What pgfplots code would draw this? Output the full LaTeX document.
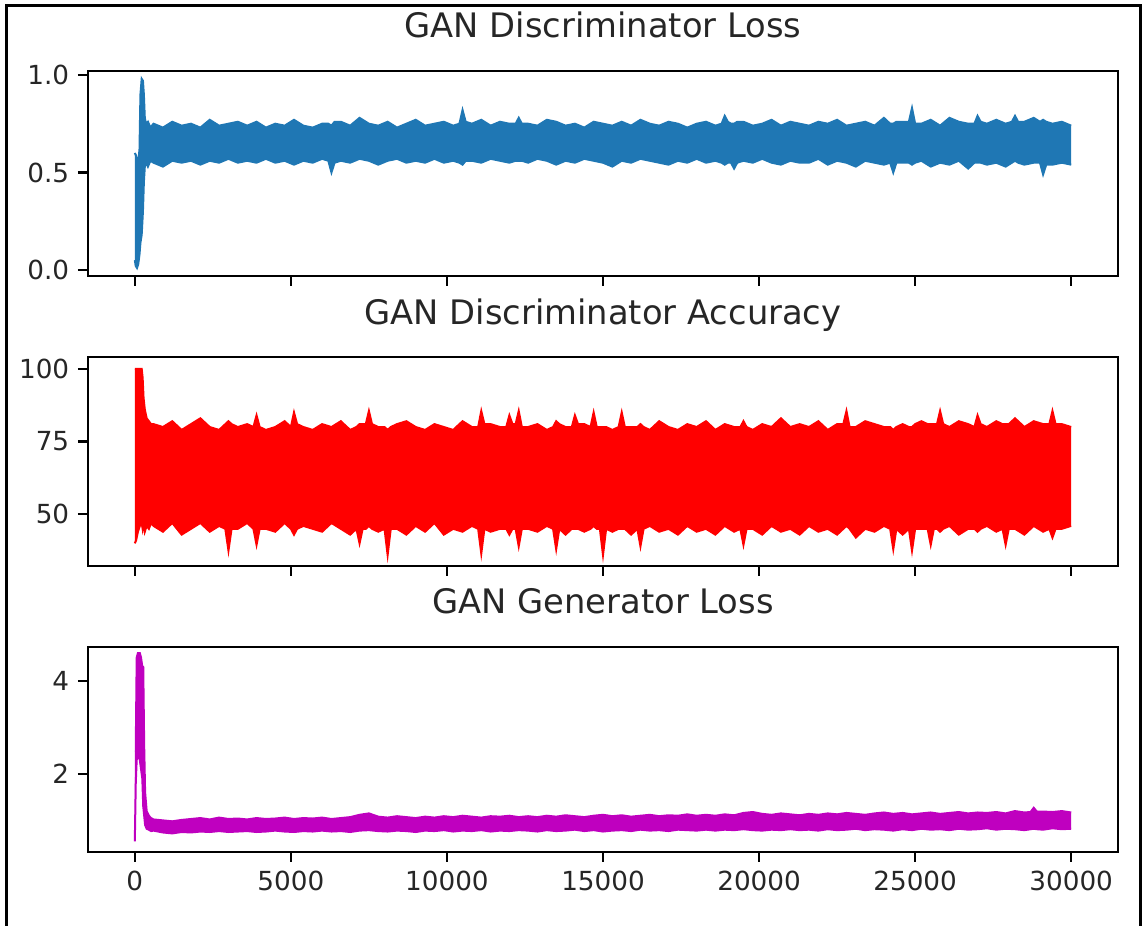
\documentclass[border=0pt]{standalone}
\usepackage{fontspec}
\setmainfont{DejaVu Sans}
\usepackage{pgfplots}
\usepackage{pgfplotstable}
\pgfplotsset{compat=1.18}
\usepgfplotslibrary{fillbetween}

\definecolor{mplblue}{HTML}{1F77B4}
\definecolor{mplred}{HTML}{FF0000}
\definecolor{mplmag}{rgb}{0.75,0,0.75}

% Discriminator loss: x, upper envelope, lower envelope
\pgfplotstableread{
x u l
0 0.60 0.05
30 0.59 0.02
70 0.57 0.01
110 0.55 0.03
150 0.62 0.08
180 0.90 0.14
220 0.98 0.18
260 0.97 0.30
290 0.90 0.45
320 0.78 0.53
360 0.75 0.55
420 0.76 0.53
500 0.73 0.56
600 0.75 0.55
900 0.73 0.53
1200 0.76 0.56
1500 0.74 0.55
1800 0.75 0.56
2100 0.73 0.54
2400 0.77 0.56
2700 0.74 0.55
3000 0.75 0.57
3300 0.76 0.55
3600 0.74 0.56
3900 0.76 0.55
4200 0.73 0.57
4500 0.75 0.55
4800 0.74 0.56
5100 0.77 0.54
5400 0.74 0.56
5700 0.73 0.55
6000 0.75 0.57
6200 0.75 0.56
6300 0.74 0.50
6400 0.76 0.55
6600 0.76 0.56
6900 0.74 0.55
7200 0.78 0.57
7500 0.75 0.56
7800 0.74 0.54
8100 0.76 0.56
8400 0.73 0.57
8700 0.75 0.55
9000 0.77 0.56
9300 0.74 0.55
9600 0.75 0.57
9900 0.76 0.55
10200 0.74 0.56
10400 0.75 0.55
10500 0.82 0.54
10600 0.76 0.56
10800 0.75 0.56
11100 0.77 0.55
11400 0.74 0.57
11700 0.76 0.56
12000 0.75 0.55
12200 0.75 0.56
12300 0.78 0.56
12400 0.75 0.56
12600 0.75 0.55
12900 0.74 0.57
13200 0.77 0.56
13500 0.76 0.54
13800 0.74 0.56
14100 0.75 0.55
14400 0.73 0.57
14700 0.76 0.56
15000 0.75 0.55
15300 0.74 0.53
15600 0.76 0.56
15900 0.74 0.55
16200 0.77 0.57
16500 0.75 0.56
16800 0.74 0.55
17100 0.76 0.54
17400 0.75 0.56
17700 0.73 0.55
18000 0.75 0.57
18300 0.76 0.55
18600 0.74 0.56
18800 0.75 0.55
18900 0.79 0.54
19000 0.76 0.55
19100 0.75 0.55
19200 0.75 0.52
19300 0.76 0.55
19500 0.76 0.56
19800 0.74 0.55
20100 0.75 0.57
20400 0.77 0.55
20700 0.74 0.54
21000 0.76 0.56
21300 0.75 0.55
21600 0.74 0.55
21900 0.76 0.57
22200 0.75 0.54
22500 0.77 0.56
22800 0.74 0.55
23100 0.75 0.53
23400 0.76 0.56
23700 0.74 0.55
24000 0.78 0.54
24200 0.75 0.55
24300 0.75 0.50
24400 0.76 0.55
24600 0.76 0.55
24800 0.76 0.55
24900 0.83 0.54
25000 0.75 0.55
25200 0.75 0.56
25500 0.77 0.53
25800 0.74 0.55
26100 0.78 0.54
26400 0.76 0.56
26700 0.75 0.52
26900 0.75 0.55
27000 0.79 0.55
27100 0.76 0.55
27300 0.75 0.54
27600 0.77 0.55
27900 0.75 0.53
28100 0.76 0.55
28200 0.79 0.56
28300 0.76 0.55
28500 0.76 0.54
28800 0.78 0.55
29000 0.76 0.55
29100 0.77 0.49
29200 0.76 0.54
29400 0.75 0.54
29700 0.76 0.55
30000 0.74 0.54
}\lossdata

% Discriminator accuracy
\pgfplotstableread{
x u l
0 100 40
40 100 41
100 100 44
160 100 46
220 100 47
250 97 45
280 90 47
320 86 44
380 83 46
450 82 45
520 81 47
600 81 46
900 80 44
1200 82 47
1500 79 43
1800 81 45
2100 83 47
2400 80 44
2700 79 46
2900 81 45
3000 82 37.5
3100 81 45
3300 80 45
3600 81 47
3800 80 45
3900 84 39.5
4000 80 45
4200 79 45
4500 80 44
4800 82 47
5000 80 45
5100 85 43
5200 81 45
5400 80 46
5700 79 45
6000 81 44
6300 80 47
6600 82 45
6900 79 43
7100 80 45
7200 81 40
7300 81 45
7400 81 45
7500 85.5 46
7600 81 45
7800 80 44
8000 80 45
8100 79 36
8200 80 45
8400 81 45
8700 82 43
9000 80 46
9300 79 44
9600 81 47
9900 80 43
10200 79 45
10500 82 44
10800 80 46
11000 80 45
11100 85.5 36.5
11200 81 45
11400 81 44
11700 80 45
11900 80 45
12000 84 43
12100 81 45
12200 81 45
12300 85.5 39
12400 80 45
12600 80 45
12900 81 44
13200 79 46
13400 80 45
13500 82 38
13600 81 45
13800 80 43
14000 80 45
14100 84 45
14200 81 45
14400 81 44
14600 80 45
14700 85 46
14800 80 45
14900 80 45
15000 80 36
15100 80 45
15300 79 44
15500 80 45
15600 85 45
15700 80 45
15900 80 43
16100 80 45
16200 81 39
16300 80 45
16500 79 46
16800 82 44
17100 80 45
17400 79 43
17700 81 46
18000 80 44
18300 82 45
18600 79 43
18900 81 46
19200 80 44
19400 80 45
19500 82 39.5
19600 80 45
19800 79 45
20100 81 43
20400 80 46
20700 83 44
21000 80 45
21300 81 43
21600 80 46
21900 82 44
22200 79 45
22500 81 43
22700 81 45
22800 85.5 46
22900 80 45
23100 80 42
23400 82 45
23700 81 44
24000 80 46
24200 80 45
24300 79 38
24400 80 45
24600 81 43
24800 80 45
24900 80 37.5
25000 81 45
25200 82 45
25400 81 45
25500 81 39.5
25600 81 45
25700 81 45
25800 85.5 44
25900 81 45
26100 80 46
26400 82 43
26700 81 45
26900 80 45
27000 84 44
27100 81 45
27300 80 46
27600 82 44
27800 81 45
27900 81 39.5
28000 81 45
28200 83 45
28500 80 43
28800 82 46
29100 81 44
29300 81 45
29400 85.5 42
29500 81 45
29700 81 45
30000 80 46
}\accdata

% Generator loss
\pgfplotstableread{
x u l
0 2.50 0.55
30 2.50 1.80
60 4.50 2.30
100 4.60 2.40
160 4.60 2.30
200 4.50 2.10
240 4.30 1.90
270 4.30 1.30
300 2.60 1.10
330 1.60 0.90
380 1.20 0.82
450 1.10 0.80
520 1.05 0.77
600 1.02 0.78
900 1.00 0.74
1200 0.98 0.72
1500 1.01 0.75
1800 1.03 0.74
2100 1.05 0.76
2400 1.02 0.75
2700 1.06 0.77
3000 1.03 0.75
3300 1.04 0.76
3600 1.02 0.77
3900 1.05 0.75
4200 1.03 0.76
4500 1.04 0.78
4800 1.06 0.76
5100 1.03 0.75
5400 1.05 0.77
5700 1.04 0.76
6000 1.06 0.78
6300 1.03 0.76
6600 1.05 0.77
6900 1.07 0.75
7200 1.12 0.78
7500 1.15 0.79
7800 1.08 0.77
8100 1.06 0.76
8400 1.09 0.78
8700 1.07 0.77
9000 1.05 0.75
9300 1.08 0.78
9600 1.06 0.77
9900 1.09 0.79
10200 1.07 0.76
10500 1.10 0.78
10800 1.08 0.77
11100 1.06 0.79
11400 1.09 0.76
11700 1.08 0.78
12000 1.10 0.77
12300 1.07 0.79
12600 1.09 0.78
12900 1.07 0.76
13200 1.10 0.79
13500 1.08 0.77
13800 1.11 0.78
14100 1.09 0.80
14400 1.07 0.77
14700 1.10 0.79
15000 1.12 0.76
15300 1.09 0.78
15600 1.11 0.79
15900 1.08 0.77
16200 1.10 0.80
16500 1.12 0.78
16800 1.09 0.79
17100 1.11 0.77
17400 1.10 0.80
17700 1.13 0.79
18000 1.10 0.78
18300 1.12 0.80
18600 1.10 0.78
18900 1.13 0.80
19200 1.11 0.79
19500 1.16 0.81
19800 1.18 0.79
20100 1.14 0.78
20400 1.12 0.80
20700 1.15 0.79
21000 1.13 0.81
21300 1.11 0.79
21600 1.14 0.80
21900 1.12 0.78
22200 1.15 0.81
22500 1.13 0.79
22800 1.16 0.80
23100 1.14 0.82
23400 1.12 0.79
23700 1.15 0.81
24000 1.17 0.80
24300 1.14 0.78
24600 1.16 0.81
24900 1.13 0.79
25200 1.15 0.82
25500 1.17 0.80
25800 1.14 0.81
26100 1.16 0.79
26400 1.18 0.82
26700 1.15 0.80
27000 1.17 0.81
27300 1.16 0.83
27600 1.18 0.80
27900 1.15 0.82
28200 1.20 0.81
28500 1.17 0.79
28700 1.18 0.81
28800 1.27 0.82
28900 1.19 0.81
29100 1.19 0.80
29400 1.18 0.83
29700 1.20 0.81
30000 1.17 0.82
}\gendata

\pgfplotsset{
  gan/.style={
    scale only axis,
    width=412pt, height=82pt,
    xmin=-1500, xmax=31500,
    xtick={0,5000,10000,15000,20000,25000,30000},
    scaled ticks=false,
    tick align=outside,
    xtick pos=left, ytick pos=left,
    major tick length=4pt,
    every tick/.style={black, line width=0.9pt},
    axis line style={line width=0.9pt},
    tick label style={font=\fontsize{10.5}{12}\selectfont, text=black!85},
    title style={font=\fontsize{13.5}{16}\selectfont, text=black!85, anchor=base, yshift=7.2pt},
    anchor=south west,
  },
  band/.style={line width=0.8pt},
}

\begin{document}
\begin{tikzpicture}
\path (0pt,0pt) rectangle (457.2pt,370.4pt);
\draw[line width=1.2pt] (2.4pt,0pt) -- (2.4pt,368pt) -- (456pt,368pt) -- (456pt,0pt);

\begin{axis}[gan, at={(35.2pt,260pt)},
  ymin=-0.031, ymax=1.0205,
  ytick={0,0.5,1}, yticklabels={0.0,0.5,1.0},
  xticklabels={},
  title={GAN Discriminator Loss}]
\addplot[mplblue, band, name path=U1] table[x=x, y=u] {\lossdata};
\addplot[mplblue, band, name path=L1] table[x=x, y=l] {\lossdata};
\addplot[fill=mplblue, draw=none] fill between[of=U1 and L1];
\end{axis}

\begin{axis}[gan, at={(35.2pt,144.1pt)}, height=83.4pt,
  ymin=32.3, ymax=104.0,
  ytick={50,75,100}, yticklabels={50,75,100},
  xticklabels={},
  title={GAN Discriminator Accuracy}]
\addplot[mplred, band, name path=U2] table[x=x, y=u] {\accdata};
\addplot[mplred, band, name path=L2] table[x=x, y=l] {\accdata};
\addplot[fill=mplred, draw=none] fill between[of=U2 and L2];
\end{axis}

\begin{axis}[gan, at={(35.2pt,29.6pt)},
  ymin=0.32, ymax=4.73,
  ytick={2,4}, yticklabels={2,4},
  xticklabels={0,5000,10000,15000,20000,25000,30000},
  title={GAN Generator Loss}]
\addplot[mplmag, band, name path=U3] table[x=x, y=u] {\gendata};
\addplot[mplmag, band, name path=L3] table[x=x, y=l] {\gendata};
\addplot[fill=mplmag, draw=none] fill between[of=U3 and L3];
\end{axis}
\end{tikzpicture}
\end{document}
